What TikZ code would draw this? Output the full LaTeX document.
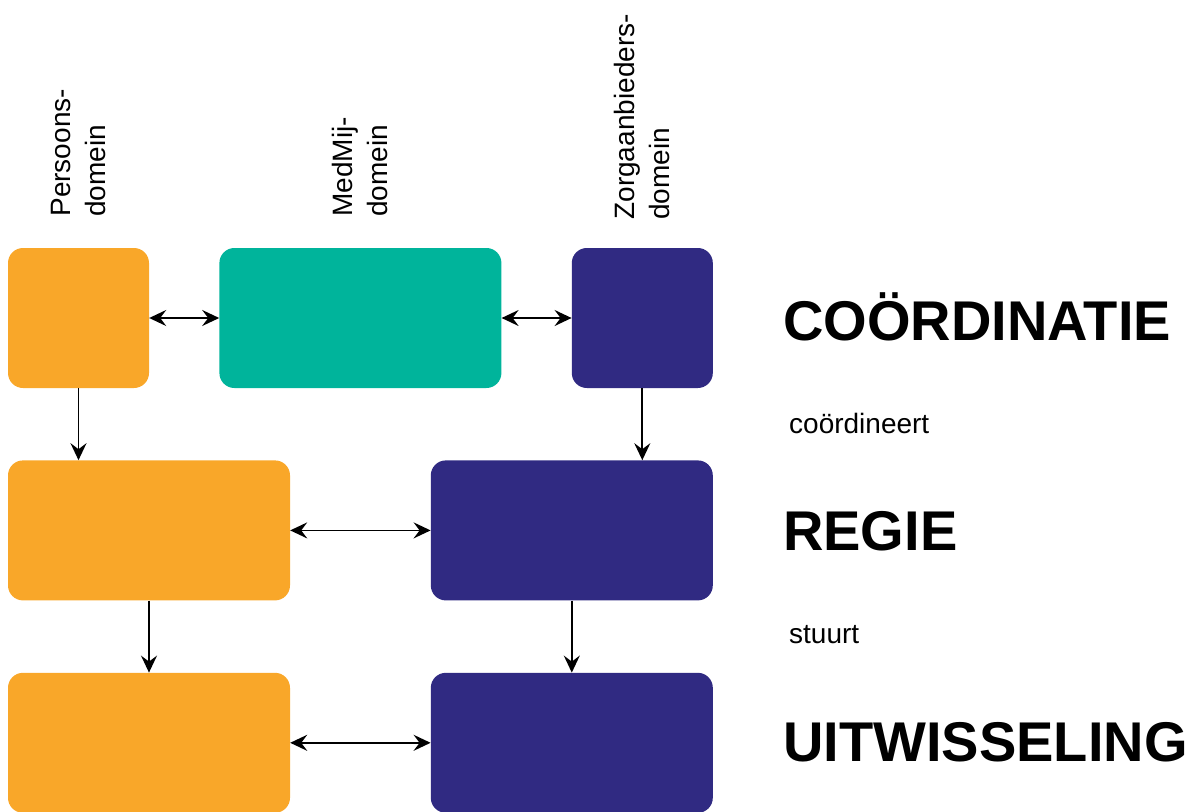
\documentclass[tikz,border=0pt]{standalone}
\usepackage{fontspec}
\setmainfont{Liberation Sans}
\usetikzlibrary{positioning,arrows.meta}

\definecolor{persorange}{RGB}{249,167,41}
\definecolor{medmijgreen}{RGB}{0,180,155}
\definecolor{zorgblue}{RGB}{48,42,130}

\tikzset{
  blok/.style={rounded corners=15pt, inner sep=0pt, minimum height=140pt},
  smal/.style={blok, minimum width=141pt},
  breed/.style={blok, minimum width=282pt},
  pijl/.style={line width=1.8pt, -{Stealth[length=17pt,width=16pt,inset=6pt]}},
  tweepijl/.style={line width=1.8pt, {Stealth[length=17pt,width=16pt,inset=6pt]}-{Stealth[length=17pt,width=16pt,inset=6pt]}},
  domein/.style={rotate=90, anchor=west, align=left, inner sep=0pt, font=\fontsize{28}{35}\selectfont},
  laag/.style={anchor=base west, inner sep=0pt, font=\fontsize{56}{60}\selectfont\bfseries},
  werkw/.style={anchor=base west, inner sep=0pt, font=\fontsize{28}{34}\selectfont}
}

\begin{document}
\begin{tikzpicture}[x=1pt, y=-1pt]
    \useasboundingbox (0,0) rectangle (1191,811);

    % coordinatie
    \node[smal, fill=persorange] (pers1) at (78.5,318) {};
    \node[breed, fill=medmijgreen, right=70pt of pers1] (medmij) {};
    \node[smal, fill=zorgblue, right=70pt of medmij] (zorg1) {};
    % regie
    \node[breed, fill=persorange, below right=72pt and 0pt of pers1.south west] (pers2) {};
    \node[breed, fill=zorgblue, below left=72pt and 0pt of zorg1.south east] (zorg2) {};
    % uitwisseling
    \node[breed, fill=persorange, below=72pt of pers2] (pers3) {};
    \node[breed, fill=zorgblue, below=72pt of zorg2] (zorg3) {};

    \node[domein] (lpers) at ([yshift=31pt]pers1.north) {Persoons-\\domein};
    \node[domein] (lmedmij) at ([yshift=31pt]medmij.north) {MedMij-\\domein};
    \node[domein] (lzorg) at ([yshift=28pt]zorg1.north) {Zorgaanbieders-\\domein};

    \draw[tweepijl] (pers1) -- (medmij);
    \draw[tweepijl] (medmij) -- (zorg1);
    \draw[pijl] (pers1) -- (pers1 |- pers2.north);
    \draw[pijl] (zorg1) -- (zorg1 |- zorg2.north);
    \draw[tweepijl] (pers2) -- (zorg2);
    \draw[pijl] (pers2) -- (pers3);
    \draw[pijl] (zorg2) -- (zorg3);
    \draw[tweepijl] (pers3) -- (zorg3);

    \node[laag] (tcoord) at (783,340) {COÖRDINATIE};
    \node[werkw] (tcoordineert) at (789,433) {coördineert};
    \node[laag] (tregie) at (783,550) {REGIE};
    \node[werkw] (tstuurt) at (789,643) {stuurt};
    \node[laag] (tuitw) at (783,761) {UITWISSELING};
\end{tikzpicture}
\end{document}
